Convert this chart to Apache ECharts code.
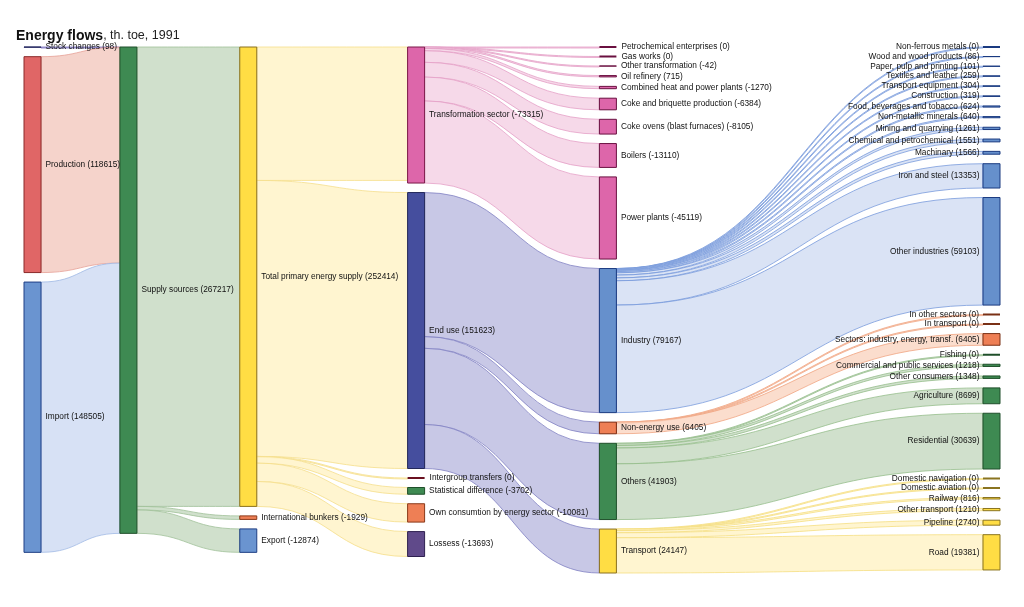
<!DOCTYPE html>
<html>
<head>
<meta charset="utf-8">
<script src="https://cdn.jsdelivr.net/npm/echarts@6.0.0/dist/echarts.min.js"></script>
<style>
html,body{margin:0;padding:0;background:#fff;}
#chart{width:1024px;height:607px;}
</style>
</head>
<body>
<div id="chart"></div>
<script>
// ---------------- DATA ----------------
const sources = ['Stock changes', 'Production', 'Import'];
const sourceValues = [98, 118615, 148505];

const supplyName = 'Supply sources';
const supplyValue = 267217;

const supplyUses = ['Total primary energy supply', 'International bunkers', 'Export'];
const supplyUseValues = [252414, -1929, -12874];

const tpesUses = ['Transformation sector', 'End use', 'Intergroup transfers', 'Statistical difference', 'Own consumtion by energy sector', 'Lossess'];
const tpesUseValues = [-73315, 151623, 0, -3702, -10081, -13693];

const transformation = ['Petrochemical enterprises', 'Gas works', 'Other transformation', 'Oil refinery', 'Combined heat and power plants', 'Coke and briquette production', 'Coke ovens (blast furnaces)', 'Boilers', 'Power plants'];
const transformationValues = [0, 0, -42, 715, -1270, -6384, -8105, -13110, -45119];

const endUses = ['Industry', 'Non-energy use', 'Others', 'Transport'];
const endUseValues = [79167, 6405, 41903, 24147];

const industry = ['Non-ferrous metals', 'Wood and wood products', 'Paper, pulp and printing', 'Textiles and leather', 'Transport equipment', 'Construction', 'Food, beverages and tobacco', 'Non-metallic minerals', 'Mining and quarrying', 'Chemical and petrochemical', 'Machinary', 'Iron and steel', 'Other industries'];
const industryValues = [0, 86, 101, 259, 304, 319, 624, 640, 1261, 1551, 1566, 13353, 59103];

const nonEnergy = ['In other sectors', 'In transport', 'Sectors: industry, energy, transf.'];
const nonEnergyValues = [0, 0, 6405];

const others = ['Fishing', 'Commercial and public services', 'Other consumers', 'Agriculture', 'Residential'];
const othersValues = [0, 1218, 1348, 8699, 30639];

const transport = ['Domestic navigation', 'Domestic aviation', 'Railway', 'Other transport', 'Pipeline', 'Road'];
const transportValues = [0, 0, 816, 1210, 2740, 19381];

// ---------------- STYLE ----------------
// column index on a 40-step grid
const colDepth = [0, 4, 9, 16, 24, 40];
const palette = {
  'Stock changes': ['#2B2F77', '#1b1f5a', 'rgba(170,160,215,0.6)', 'rgba(110,100,185,0.9)'],
  'Production': ['#E06666', '#8a2a2a', 'rgba(243,200,190,0.8)', 'rgba(230,160,150,1)'],
  'Import': ['#6A94D0', '#1f3f85', 'rgba(205,218,242,0.8)', 'rgba(160,185,228,1)'],
  'Supply sources': ['#3E8A52', '#1f4f2a', 'rgba(196,216,191,0.8)', 'rgba(160,192,152,1)'],
  'Total primary energy supply': ['#FFDD44', '#8a7020', 'rgba(255,243,196,0.8)', 'rgba(245,222,140,1)'],
  'International bunkers': ['#EE7F55', '#8a3a1a'],
  'Export': ['#6A94D0', '#1f3f85'],
  'Transformation sector': ['#DD66AA', '#7a1848', 'rgba(244,208,228,0.8)', 'rgba(228,160,198,1)'],
  'End use': ['#454E9E', '#23285a', 'rgba(190,190,226,0.85)', 'rgba(130,130,195,1)'],
  'Intergroup transfers': ['#7a1a2a', '#6a1020'],
  'Statistical difference': ['#3E8A52', '#1f4f2a'],
  'Own consumtion by energy sector': ['#EE7F55', '#8a3a1a'],
  'Lossess': ['#604A8A', '#2e2050'],
  'Industry': ['#6690CC', '#1a3a80', 'rgba(205,218,242,0.75)', 'rgba(120,155,220,1)'],
  'Non-energy use': ['#EE7F55', '#7a2a10', 'rgba(250,212,192,0.8)', 'rgba(240,165,130,1)'],
  'Others': ['#3E8A52', '#1f4f2a', 'rgba(196,216,191,0.8)', 'rgba(150,190,140,1)'],
  'Transport': ['#FFDD44', '#8a7020', 'rgba(255,243,196,0.8)', 'rgba(245,222,130,1)']
};
const childColor = {
  'Transformation sector': ['#DD66AA', '#6a1040'],
  'Industry': ['#6690CC', '#1a3a80'],
  'Non-energy use': ['#EE7F55', '#7a3015'],
  'Others': ['#3E8A52', '#1f4f2a'],
  'Transport': ['#FFDD44', '#8a7420']
};

// ---------------- BUILD ----------------
const nodes = [];
const links = [];
const fullName = {};
function label(n, v) { return n + ' (' + v + ')'; }
function addNode(n, v, col, colors) {
  const nm = label(n, v);
  fullName[n] = nm;
  nodes.push({
    name: nm,
    depth: colDepth[col],
    itemStyle: { color: colors[0], borderColor: colors[1], borderWidth: v === 0 ? 2 : 1 },
    label: { position: col === 5 ? 'left' : 'right', distance: col === 5 ? 3 : 4 }
  });
}
function addLink(src, tgt, v) {
  const c = palette[src];
  links.push({
    source: fullName[src], target: fullName[tgt], value: Math.abs(v),
    lineStyle: { color: c[2], borderColor: c[3], borderWidth: 0.8, opacity: 1 }
  });
}
sources.forEach((n, i) => addNode(n, sourceValues[i], 0, palette[n]));
addNode(supplyName, supplyValue, 1, palette[supplyName]);
supplyUses.forEach((n, i) => addNode(n, supplyUseValues[i], 2, palette[n]));
tpesUses.forEach((n, i) => addNode(n, tpesUseValues[i], 3, palette[n]));
transformation.forEach((n, i) => addNode(n, transformationValues[i], 4, childColor['Transformation sector']));
endUses.forEach((n, i) => addNode(n, endUseValues[i], 4, palette[n]));
industry.forEach((n, i) => addNode(n, industryValues[i], 5, childColor['Industry']));
nonEnergy.forEach((n, i) => addNode(n, nonEnergyValues[i], 5, childColor['Non-energy use']));
others.forEach((n, i) => addNode(n, othersValues[i], 5, childColor['Others']));
transport.forEach((n, i) => addNode(n, transportValues[i], 5, childColor['Transport']));

sources.forEach((n, i) => addLink(n, supplyName, sourceValues[i]));
supplyUses.forEach((n, i) => addLink(supplyName, n, supplyUseValues[i]));
tpesUses.forEach((n, i) => addLink('Total primary energy supply', n, tpesUseValues[i]));
transformation.forEach((n, i) => addLink('Transformation sector', n, transformationValues[i]));
endUses.forEach((n, i) => addLink('End use', n, endUseValues[i]));
industry.forEach((n, i) => addLink('Industry', n, industryValues[i]));
nonEnergy.forEach((n, i) => addLink('Non-energy use', n, nonEnergyValues[i]));
others.forEach((n, i) => addLink('Others', n, othersValues[i]));
transport.forEach((n, i) => addLink('Transport', n, transportValues[i]));

const chart = echarts.init(document.getElementById('chart'));
chart.setOption({
  backgroundColor: '#fff',
  animation: false,
  title: {
    left: 16, top: 29, padding: 0,
    text: '{b|Energy flows}{n|, th. toe, 1991}',
    textStyle: {
      fontWeight: 'normal',
      rich: {
        b: { fontFamily: 'Liberation Sans, Arial', fontWeight: 'bold', fontSize: 14, color: '#111' },
        n: { fontFamily: 'Liberation Sans, Arial', fontWeight: 'normal', fontSize: 12.5, color: '#222' }
      }
    }
  },
  series: [{
    type: 'sankey',
    left: 24, top: 47, right: 24, bottom: 34,
    nodeWidth: 17,
    nodeGap: 9.5,
    layoutIterations: 0,
    nodeAlign: 'left',
    draggable: false,
    emphasis: { disabled: true },
    label: {
      fontFamily: 'Liberation Sans, Arial',
      fontSize: 8.3,
      color: '#111',
      formatter: '{b}'
    },
    lineStyle: { curveness: 0.5, opacity: 1 },
    data: nodes,
    links: links
  }]
});
</script>
</body>
</html>
